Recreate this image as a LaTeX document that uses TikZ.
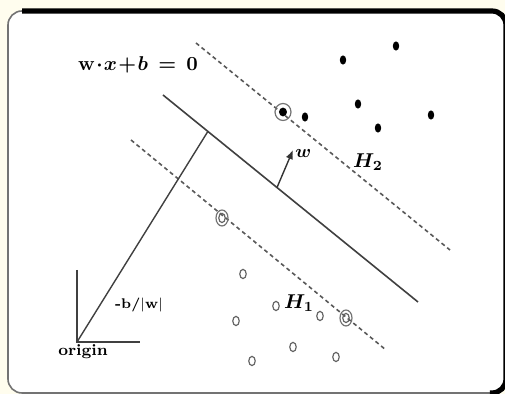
\documentclass[tikz,border=0pt]{standalone}
\usepackage{xcolor}
\usepackage{tikz}
\usetikzlibrary{arrows.meta,positioning,shapes.geometric,calc}
\definecolor{paper}{RGB}{255,253,238}

\begin{document}
\begin{tikzpicture}[
  x=0.5pt, y=-0.5pt,
  hyper/.style={line width=0.8pt, black!75},
  margin/.style={dash pattern=on 2pt off 1.6pt, line width=0.8pt, black!65},
  posdot/.style={ellipse, fill=black, inner sep=0pt, minimum width=3.2pt, minimum height=4.6pt},
  negdot/.style={ellipse, draw=black!60, line width=0.6pt, inner sep=0pt, minimum width=3.2pt, minimum height=4.6pt},
  ring/.style={ellipse, draw=black!55, line width=0.6pt, inner sep=0pt, minimum width=#1},
  lbl/.style={inner sep=1pt},
  arrow/.style={-{Latex[length=1.6mm, width=1.3mm]}, line width=0.7pt, black!80}
]
\fill[paper] (0,0) rectangle (505,394);
\useasboundingbox (0,0) rectangle (505,394);
\draw[draw=black!55, fill=white, line width=0.8pt, rounded corners=7pt] (8,11) rectangle (506,393);
\draw[line width=2.6pt, rounded corners=7pt] (22,11) -- (506,11) -- (506,393) -- (490,393);

\coordinate (h0a) at (163,95);
\coordinate (h0b) at (418,302);
\coordinate (h2a) at (196,43);
\coordinate (h2b) at (450,250);
\coordinate (h1a) at (131,140);
\coordinate (h1b) at (386,350);
\coordinate (org) at (77,342);
\coordinate (yax) at (77,270);
\coordinate (xax) at (140,342);
\coordinate (foot) at ($(h0a)!0.176!(h0b)$);
\coordinate (wbase) at ($(h0a)!0.447!(h0b)$);
\coordinate (wtip) at (293,150);

\draw[hyper] (h0a) -- (h0b);
\draw[margin] (h2a) -- (h2b);
\draw[margin] (h1a) -- (h1b);
\draw[hyper, line width=0.7pt] (org) -- (foot);
\draw[hyper, line width=0.7pt] (yax) -- (org) -- (xax);
\draw[arrow] (wbase) -- (wtip);

\node[lbl] (eq) at (138,65) {{\boldmath$\mathbf{w}\!\cdot\! x\!+\!b\,=\,\mathbf{0}$}};
\node[lbl, right=0pt of wtip, yshift=-2pt] (wlbl) {{\small\boldmath$w$}};
\node[lbl] (h2lbl) at (368,162) {{\boldmath$H_2$}};
\node[lbl] (h1lbl) at (299,303) {{\boldmath$H_1$}};
\node[lbl] (dist) at (139,305) {\scriptsize\bfseries -b/$|$w$|$};
\node[lbl, below=0pt of org, xshift=3pt] (orglbl) {\footnotesize\bfseries origin};

\node[posdot] (p1) at (343,60) {};
\node[posdot] (p2) at (396,46) {};
\node[posdot] (p3) at (358,104) {};
\node[posdot] (p4) at (305,117) {};
\node[posdot] (p5) at (378,128) {};
\node[posdot] (p6) at (431,115) {};
\node[posdot, minimum width=4pt, minimum height=4.4pt] (sv1) at (283,112) {};
\node[ring=8pt, minimum height=8.5pt] at (sv1) {};

\node[negdot] (n1) at (243,274) {};
\node[negdot] (n2) at (276,306) {};
\node[negdot] (n3) at (236,321) {};
\node[negdot] (n4) at (320,316) {};
\node[negdot] (n5) at (293,347) {};
\node[negdot] (n6) at (252,361) {};
\node[negdot] (n7) at (336,357) {};
\node[negdot] (sv2) at (222,218) {};
\node[ring=6pt, minimum height=8pt] at (sv2) {};
\node[negdot] (sv3) at (346,318) {};
\node[ring=6pt, minimum height=8pt] at (sv3) {};
\end{tikzpicture}
\end{document}
